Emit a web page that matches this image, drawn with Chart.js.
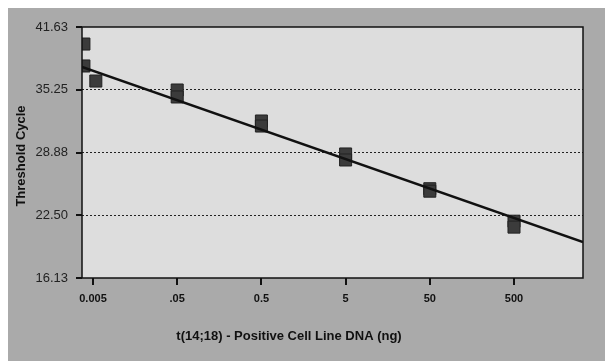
<!DOCTYPE html>
<html>
<head>
<meta charset="utf-8">
<script src="https://cdn.jsdelivr.net/npm/chart.js@4.4.0/dist/chart.umd.min.js"></script>
<style>
  html, body { margin: 0; padding: 0; background: #ffffff; }
  #wrap { position: absolute; left: 8px; top: 8px; width: 597px; height: 353px; }
</style>
</head>
<body>
<div id="wrap"><canvas id="chartCanvas" width="597" height="353"></canvas></div>
<script>
// DNA amount (ng) and threshold cycle
const dnaAmount = [0.0039, 0.0039, 0.0054, 0.05, 0.05, 0.5, 0.5, 5, 5, 50, 50, 500, 500];
const thresholdCycle = [39.9, 37.67, 36.14, 35.23, 34.52, 32.08, 31.57, 28.73, 28.12, 25.2, 24.95, 21.9, 21.3];

// regression line end points
const fitX = [0.0037, 3300];
const fitY = [37.57, 19.79];

const xTickValues = [0.005, 0.05, 0.5, 5, 50, 500];
const xTickLabels = ["0.005", ".05", "0.5", "5", "50", "500"];
const yTickValues = [16.13, 22.505, 28.88, 35.255, 41.63];
const yTickLabels = ["16.13", "22.50", "28.88", "35.25", "41.63"];

const backdrop = {
    id: "backdrop",
    beforeDraw(chart) {
        const { ctx, chartArea: a } = chart;
        ctx.save();
        ctx.fillStyle = "#aaaaaa";
        ctx.fillRect(0, 0, chart.width, chart.height);
        ctx.fillStyle = "#dddddd";
        ctx.fillRect(a.left, a.top, a.right - a.left, a.bottom - a.top);
        ctx.restore();
    },
    afterDraw(chart) {
        const { ctx, chartArea: a, scales } = chart;
        ctx.save();
        ctx.strokeStyle = "#111";
        ctx.lineWidth = 1.5;
        ctx.strokeRect(a.left, a.top, a.right - a.left, a.bottom - a.top);
        // tick marks
        ctx.fillStyle = "#111";
        xTickValues.forEach((v) => {
            const px = Math.round(scales.x.getPixelForValue(v));
            ctx.fillRect(px - 1, a.bottom, 2, 7);
        });
        yTickValues.forEach((v) => {
            const py = Math.round(scales.y.getPixelForValue(v));
            ctx.fillRect(a.left - 6, py - 1, 6, 2);
        });
        // axis titles
        ctx.font = "bold 13px 'Liberation Sans', Arial, sans-serif";
        ctx.textAlign = "center";
        ctx.textBaseline = "middle";
        ctx.fillText("t(14;18) - Positive Cell Line DNA (ng)", 281, 328);
        ctx.translate(13, 148);
        ctx.rotate(-Math.PI / 2);
        ctx.fillText("Threshold Cycle", 0, 0);
        ctx.restore();
    },
};

const points = dnaAmount.map((x, i) => ({ x: x, y: thresholdCycle[i] }));
const fitLine = fitX.map((x, i) => ({ x: x, y: fitY[i] }));

new Chart(document.getElementById("chartCanvas").getContext("2d"), {
    type: "scatter",
    data: {
        datasets: [
            {
                label: "Fit",
                data: fitLine,
                showLine: true,
                borderColor: "#111111",
                borderWidth: 2.5,
                pointRadius: 0,
                order: 0,
            },
            {
                label: "Samples",
                data: points,
                pointStyle: "rect",
                pointRadius: 8.5,
                backgroundColor: "#3b3b3b",
                borderColor: "#222222",
                borderWidth: 1,
                order: 1,
            },
        ],
    },
    options: {
        responsive: false,
        animation: false,
        layout: { padding: { top: 19, right: 22, left: 0, bottom: 0 } },
        plugins: { legend: { display: false }, tooltip: { enabled: false } },
        scales: {
            x: {
                type: "logarithmic",
                min: 0.0037,
                max: 3300,
                afterBuildTicks: (scale) => {
                    scale.ticks = xTickValues.map((v) => ({ value: v }));
                },
                afterFit: (scale) => { scale.height = 83; },
                ticks: {
                    autoSkip: false,
                    maxRotation: 0,
                    padding: 8,
                    color: "#111",
                    font: { family: "'Liberation Sans', Arial, sans-serif", size: 11, weight: "bold" },
                    callback: (value, index) => xTickLabels[index],
                },
                grid: {
                    drawOnChartArea: false,
                    drawTicks: true,
                    tickLength: 6,
                    tickColor: "rgba(0,0,0,0)",
                },
                border: { display: false },
            },
            y: {
                min: 16.13,
                max: 41.63,
                afterBuildTicks: (scale) => {
                    scale.ticks = yTickValues.map((v) => ({ value: v }));
                },
                afterFit: (scale) => { scale.width = 74; },
                ticks: {
                    autoSkip: false,
                    padding: 9,
                    color: "#222",
                    font: { family: "'Liberation Sans', Arial, sans-serif", size: 13 },
                    callback: (value, index) => yTickLabels[index],
                },
                grid: {
                    color: (c) => (c.index === 0 || c.index === yTickValues.length - 1) ? "rgba(0,0,0,0)" : "#222",
                    lineWidth: 1,
                    drawTicks: true,
                    tickLength: 5,
                    tickColor: "rgba(0,0,0,0)",
                },
                border: { display: false, dash: [2, 2] },
            },
        },
    },
    plugins: [backdrop],
});
</script>
</body>
</html>
